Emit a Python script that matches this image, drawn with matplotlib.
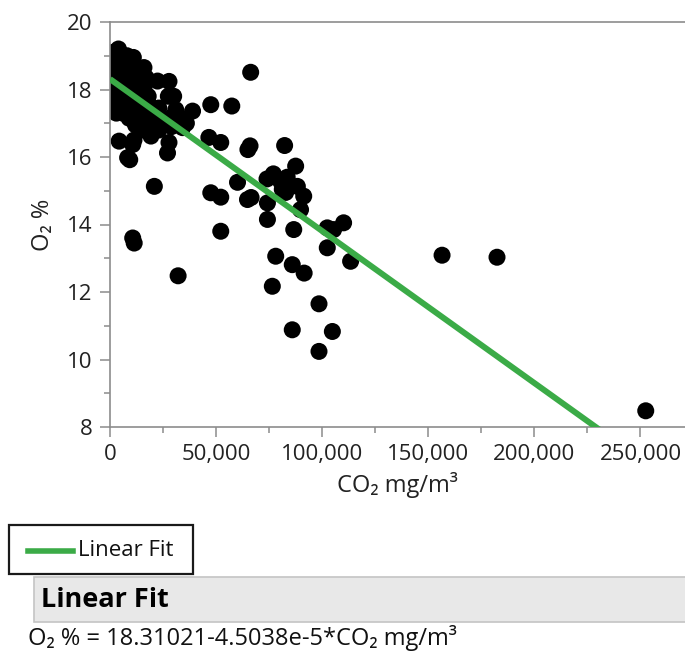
import numpy as np
import matplotlib
matplotlib.use("Agg")
import matplotlib.pyplot as plt
from matplotlib.patches import Rectangle
from matplotlib.lines import Line2D
from matplotlib.ticker import FuncFormatter, MultipleLocator

plt.rcParams["font.family"] = ["Open Sans", "Noto Sans", "DejaVu Sans"]

# CO2 (mg/m3) and O2 (%)
co2 = [1500, 2000, 1000, 2500, 1000, 2000, 1500, 3000, 4000, 5000, 5500, 5000,
       4500, 5000, 8000, 9000, 8500, 9000, 8000, 9500, 9000, 11000, 12000, 13000,
       12000, 13000, 12500, 14000, 12000, 16000, 17000, 16000, 18000, 17000,
       19000, 19300, 22400, 18000, 27500, 23000, 25000, 23000, 27800, 30000,
       31000, 29000, 27800, 27100, 34200, 33000, 38900, 36000, 4300, 10700,
       8300, 9300, 11300, 15000, 14000, 20000, 16000, 24000, 28000, 31000,
       6000, 3000,
       47500, 57400, 46600, 52200, 65000, 66000, 82300, 66300, 60100, 47500,
       52200, 64800, 66500, 74000, 77000, 87500, 80400, 88300, 81200, 91300,
       74200, 82800, 89800, 74200, 86600, 52200, 102400, 110100, 105400,
       102400, 113400, 78100, 85900, 91500, 76500, 98500, 85900, 104800, 98500,
       156500, 182400, 252500, 20900, 10700, 11400, 32100, 83500]
o2 = [19.1, 18.85, 18.6, 18.35, 18.1, 17.85, 17.6, 17.45, 19.2, 18.9, 18.55, 18.2,
      17.9, 17.6, 19.0, 18.7, 18.4, 18.1, 17.8, 17.5, 17.15, 18.95, 18.6, 18.3,
      18.0, 17.7, 17.35, 17.05, 16.95, 18.65, 18.35, 18.05, 17.6, 17.3,
      17.0, 16.62, 18.25, 17.8, 17.8, 17.45, 17.05, 16.8, 18.24, 17.8,
      17.4, 16.9, 16.43, 16.12, 16.87, 17.15, 17.36, 17.0, 16.47, 16.37,
      15.98, 15.92, 16.5, 16.8, 17.4, 17.2, 17.0, 17.15, 17.15, 17.1,
      17.3, 17.3,
      17.55, 17.51, 16.58, 16.43, 16.22, 16.33, 16.34, 18.51, 15.25, 14.94,
      14.81, 14.74, 14.8, 15.35, 15.5, 15.73, 15.28, 15.13, 15.04, 14.84,
      14.64, 14.95, 14.44, 14.15, 13.85, 13.80, 13.90, 14.05, 13.85,
      13.31, 12.91, 13.06, 12.81, 12.56, 12.17, 11.65, 10.88, 10.83, 10.24,
      13.09, 13.03, 8.48, 15.13, 13.60, 13.45, 12.48, 15.4]

# fit coefficients as printed under the chart
intercept = 18.31021
slope = -4.5038e-5
fit_label = "Linear Fit"
formula = "O\u2082 % = 18.31021-4.5038e-5*CO\u2082 mg/m\u00b3"

W, H = 685, 657
fig = plt.figure(figsize=(W / 100, H / 100), dpi=100)
ax = fig.add_axes([110 / W, 230 / H, 575 / W, 405 / H])

GRID = "#8c8c8c"
GREEN = "#3bab47"

ax.scatter(co2, o2, s=150, color="black", edgecolors="none", zorder=2)
xs = np.array([0, 271000])
ax.plot(xs, intercept + slope * xs, color=GREEN, lw=4.3, zorder=3,
        solid_capstyle="butt")

ax.set_xlim(0, 271000)
ax.set_ylim(8, 20)
ax.xaxis.set_major_locator(MultipleLocator(50000))
ax.xaxis.set_minor_locator(MultipleLocator(25000))
ax.yaxis.set_major_locator(MultipleLocator(2))
ax.yaxis.set_minor_locator(MultipleLocator(1))
ax.xaxis.set_major_formatter(FuncFormatter(lambda v, p: f"{int(v):,}"))

for side in ["left", "bottom", "top"]:
    ax.spines[side].set_color(GRID)
    ax.spines[side].set_linewidth(1.2)
ax.spines["right"].set_visible(False)
ax.tick_params(which="major", length=7.5, width=1.1, color=GRID,
               labelsize=16, labelcolor="#222222", pad=5)
ax.tick_params(which="minor", length=4, width=1.1, color=GRID)

ax.set_xlabel("CO\u2082 mg/m\u00b3", fontsize=17, color="#222222", labelpad=5)
ax.set_ylabel("O\u2082 %", fontsize=17, color="#222222", labelpad=9)

# legend and fit report drawn in pixel space underneath the plot
ov = fig.add_axes([0, 0, 1, 1], zorder=-1)
ov.set_xlim(0, W)
ov.set_ylim(H, 0)
ov.axis("off")

ov.add_patch(Rectangle((9, 525), 184, 49, fill=False, edgecolor="#1a1a1a", lw=1.6))
ov.add_line(Line2D([28, 73], [551, 551], color=GREEN, lw=4.0))
ov.text(78, 551, fit_label, fontsize=16, va="center", ha="left", color="#111111")

ov.add_patch(Rectangle((34, 577), 660, 45, facecolor="#e8e8e8",
                       edgecolor="#c4c4c4", lw=1.2))
ov.text(41, 600, fit_label, fontsize=19.5, fontweight="bold", va="center",
        ha="left", color="black")
ov.text(28, 638, formula, fontsize=17, va="center", ha="left", color="#111111")

fig.savefig("out.png", dpi=100)
